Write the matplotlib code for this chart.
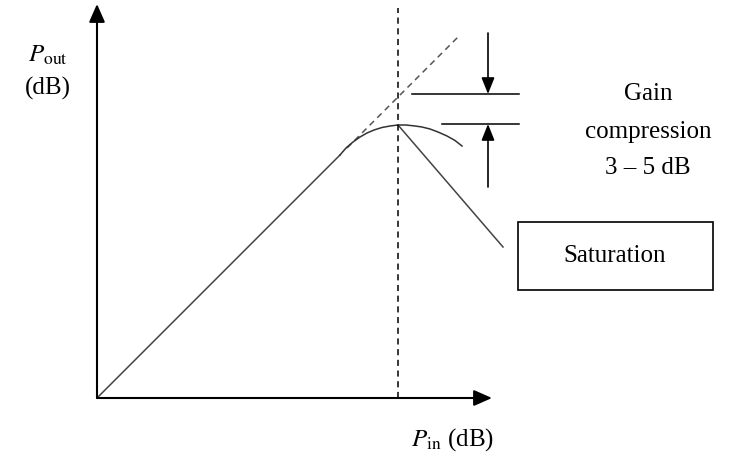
import matplotlib.pyplot as plt
from matplotlib.patches import Rectangle

plt.rcParams['font.family'] = ['Liberation Serif', 'DejaVu Serif']
plt.rcParams['mathtext.fontset'] = 'stix'

# schematic values, arbitrary dB units (origin = where axes meet)
lin_pin = [0, 243]
lin_pout = [0, 243]
ideal_pin = [250, 362]
ideal_pout = [250, 362]
comp_pin = [243, 249, 256, 263, 270, 277, 285, 293, 301, 309, 318, 325, 333, 341, 350, 358, 365]
comp_pout = [243, 250, 256, 261, 265, 268, 270.5, 272, 273, 273, 272, 271, 269, 266, 262, 257.5, 252]
sat_pin = [301, 406]
sat_pout = [273, 151]
p_sat = 301
gain_top = 304
gain_bot = 274

fig = plt.figure(figsize=(7.42, 4.61), dpi=100)
ax = fig.add_axes([0, 0, 1, 1])
ax.set_xlim(-97, 645)
ax.set_ylim(-63, 398)
ax.axis('off')

# axes with arrows
head = dict(arrowstyle='-|>,head_length=0.5,head_width=0.22', color='black', lw=1.5,
            mutation_scale=22, shrinkA=0, shrinkB=0)
ax.annotate('', xy=(395, 0), xytext=(0, 0), arrowprops=head)
ax.annotate('', xy=(0, 394), xytext=(0, 0), arrowprops=head)

ax.plot(lin_pin, lin_pout, color='#444444', lw=1.1)
ax.plot(ideal_pin, ideal_pout, color='#555555', lw=1.1, ls=(0, (4, 3)))
ax.plot(comp_pin, comp_pout, color='#333333', lw=1.1)
ax.plot(sat_pin, sat_pout, color='#444444', lw=1.1)
ax.plot([p_sat, p_sat], [0, 390], color='black', lw=1.1, ls=(0, (4, 3)))

# gain compression markers
ax.plot([315, 422], [gain_top, gain_top], color='black', lw=1.1)
ax.plot([345, 422], [gain_bot, gain_bot], color='black', lw=1.1)
head2 = dict(arrowstyle='-|>,head_length=0.45,head_width=0.18', color='black', lw=1.2,
             mutation_scale=22, shrinkA=0, shrinkB=0)
ax.annotate('', xy=(391, gain_top), xytext=(391, 365), arrowprops=head2)
ax.annotate('', xy=(391, gain_bot), xytext=(391, 211), arrowprops=head2)

fs = 18
ax.text(551, 304, 'Gain', fontsize=fs, ha='center', va='center')
ax.text(551, 266, 'compression', fontsize=fs, ha='center', va='center')
ax.text(551, 230, '3 – 5 dB', fontsize=fs, ha='center', va='center')
ax.add_patch(Rectangle((421, 108), 195, 68, fc='white', ec='black', lw=1.2))
ax.text(518, 142, 'Saturation', fontsize=fs, ha='center', va='center')

ax.text(-49, 343, r'$P_{\mathrm{out}}$', fontsize=fs, ha='center', va='center')
ax.text(-49, 310, '(dB)', fontsize=fs, ha='center', va='center')
ax.text(355, -42, r'$P_{\mathrm{in}}$ (dB)', fontsize=fs, ha='center', va='center')

fig.savefig('out.png', dpi=100)
